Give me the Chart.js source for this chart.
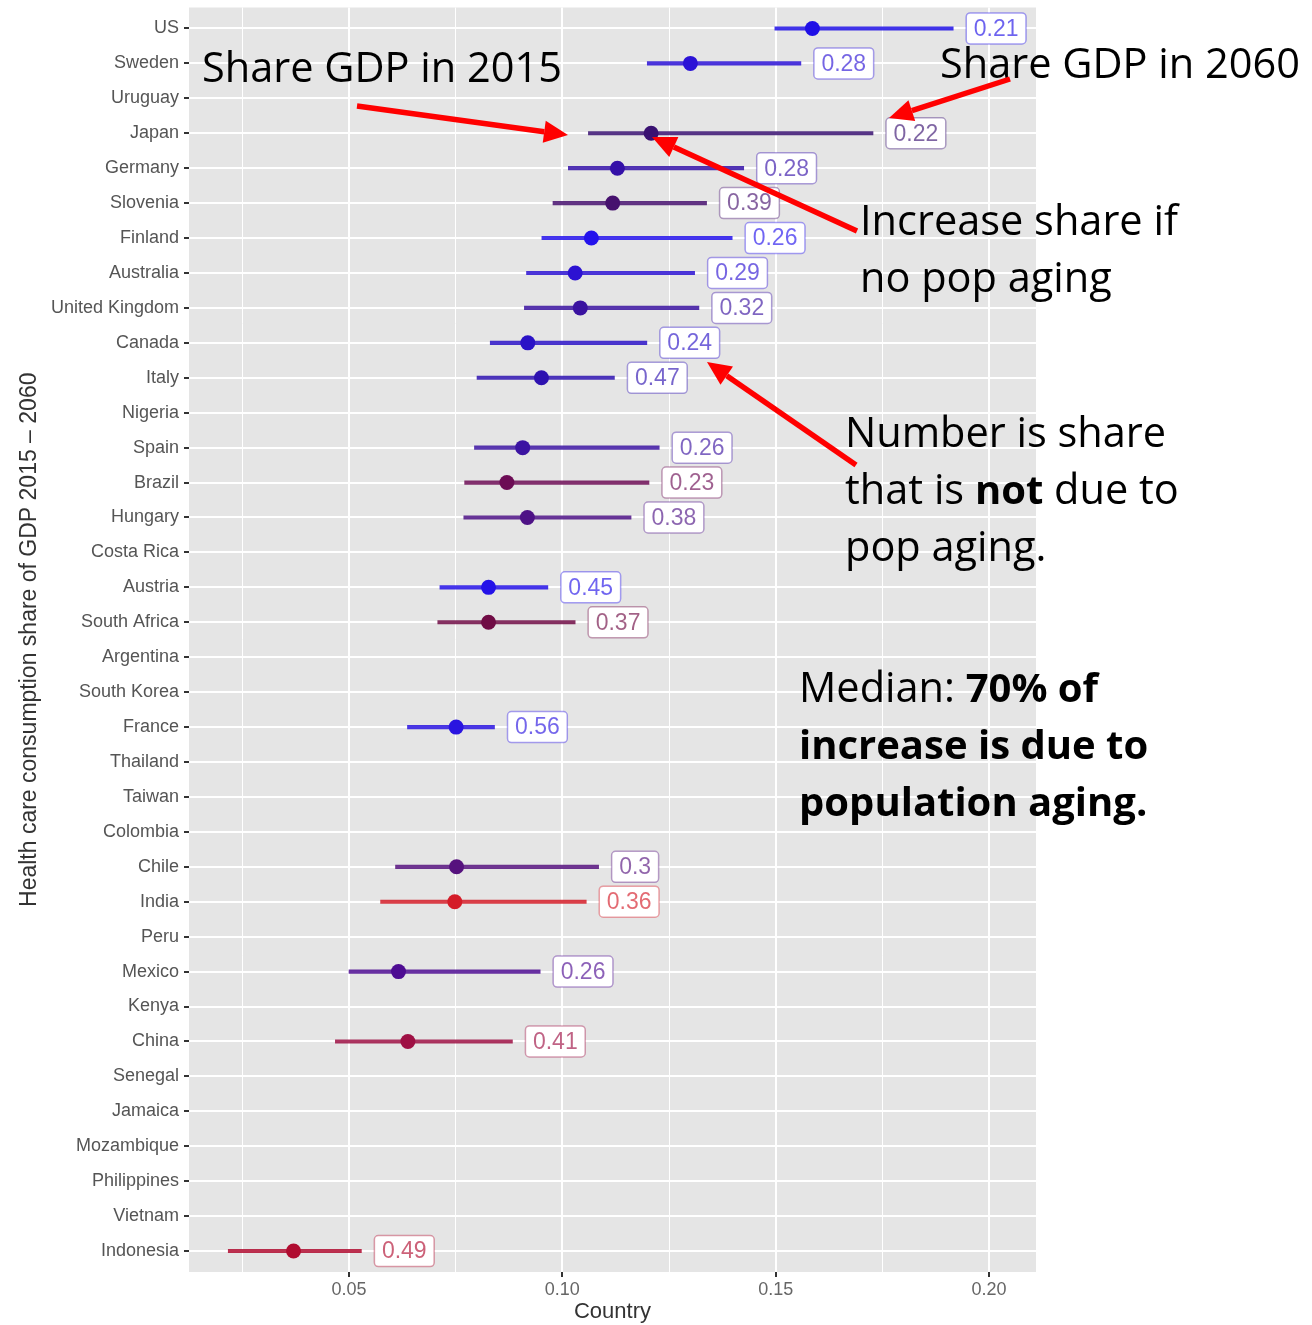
<!DOCTYPE html>
<html>
<head>
<meta charset="utf-8">
<script src="https://cdn.jsdelivr.net/npm/chart.js@4/dist/chart.umd.min.js"></script>
<style>
  html, body { margin: 0; background: #fff; }
  canvas { display: block; }
</style>
</head>
<body>
<canvas id="chart" width="1312" height="1325"></canvas>
<script>
// countries top to bottom; null = no estimate available
const COUNTRIES = ["US", "Sweden", "Uruguay", "Japan", "Germany", "Slovenia", "Finland", "Australia",
  "United Kingdom", "Canada", "Italy", "Nigeria", "Spain", "Brazil", "Hungary", "Costa Rica", "Austria",
  "South Africa", "Argentina", "South Korea", "France", "Thailand", "Taiwan", "Colombia", "Chile", "India",
  "Peru", "Mexico", "Kenya", "China", "Senegal", "Jamaica", "Mozambique", "Philippines", "Vietnam", "Indonesia"];

const SHARE_2015 = [0.1498, 0.1199, null, 0.1061, 0.1014, 0.0978, 0.0952, 0.0916,
  0.0911, 0.0831, 0.0800, null, 0.0794, 0.0771, 0.0769, null, 0.0713,
  0.0708, null, null, 0.0637, null, null, null, 0.0609, 0.0574,
  null, 0.0500, null, 0.0468, null, null, null, null, null, 0.0217];

const SHARE_2060 = [0.1916, 0.1559, null, 0.1728, 0.1425, 0.1338, 0.1398, 0.1310,
  0.1320, 0.1198, 0.1122, null, 0.1227, 0.1203, 0.1161, null, 0.0966,
  0.1030, null, null, 0.0841, null, null, null, 0.1085, 0.1056,
  null, 0.0948, null, 0.0883, null, null, null, null, null, 0.0529];

// 2060 share if the population did not age
const SHARE_NO_AGING = [0.1586, 0.1300, null, 0.1208, 0.1129, 0.1118, 0.1068, 0.1030,
  0.1042, 0.0919, 0.0951, null, 0.0907, 0.0870, 0.0918, null, 0.0827,
  0.0827, null, null, 0.0751, null, null, null, 0.0752, 0.0748,
  null, 0.0616, null, 0.0638, null, null, null, null, null, 0.0370];

// share of the increase not due to population aging
const NOT_AGING = [0.21, 0.28, null, 0.22, 0.28, 0.39, 0.26, 0.29,
  0.32, 0.24, 0.47, null, 0.26, 0.23, 0.38, null, 0.45,
  0.37, null, null, 0.56, null, null, null, 0.3, 0.36,
  null, 0.26, null, 0.41, null, null, null, null, null, 0.49];

const X_GRID = [0.025, 0.05, 0.075, 0.10, 0.125, 0.15, 0.175, 0.20];

const COLORS = ["#1f0fe6", "#2b12d6", null, "#3a1272", "#3410a8", "#46116e", "#2412ec", "#2c12d2",
  "#3a12a0", "#2a12c6", "#2e12b0", null, "#3c14a2", "#6c0c55", "#4e1286", null, "#2412e8",
  "#700c45", null, null, "#2a14e0", null, null, null, "#56127e", "#d41c28",
  null, "#4e0c92", null, "#9e1044", null, null, null, null, null, "#b00c30"];

const NOTES = [
  { x: 202, y: 82, runs: [["Share GDP in 2015", false]] },
  { x: 940, y: 78, runs: [["Share GDP in 2060", false]] },
  { x: 860, y: 235, runs: [["Increase share if", false]] },
  { x: 860, y: 292, runs: [["no pop aging", false]] },
  { x: 845, y: 447, runs: [["Number is share", false]] },
  { x: 845, y: 504, runs: [["that is ", false], ["not", true], [" due to", false]] },
  { x: 845, y: 561, runs: [["pop aging.", false]] },
  { x: 799, y: 702, runs: [["Median: ", false], ["70% of", true]] },
  { x: 799, y: 759, runs: [["increase is due to", true]] },
  { x: 799, y: 816, runs: [["population aging.", true]] }
];

const ARROWS = [
  { from: [357, 106], to: [568, 135] },
  { from: [1010, 79], to: [889, 118] },
  { from: [857, 231], to: [652, 137] },
  { from: [856, 465], to: [707, 362] }
];

const rows = COUNTRIES.map((_, i) => i).filter(i => SHARE_2015[i] !== null);
const TICK_FONT = '"Liberation Sans", Arial, sans-serif';

function withAlpha(hex, a) {
  const n = parseInt(hex.slice(1), 16);
  return `rgba(${(n >> 16) & 255}, ${(n >> 8) & 255}, ${n & 255}, ${a})`;
}

function isMajor(v) {
  return Math.abs(v * 20 - Math.round(v * 20)) < 1e-6;
}

function noEdgePadding(s) {
  s.paddingTop = 0;
  s.paddingBottom = 0;
  s.paddingLeft = 0;
  s.paddingRight = 0;
}

const panelBackground = {
  id: "panelBackground",
  beforeDraw(chart) {
    const { ctx, chartArea: a } = chart;
    ctx.save();
    ctx.fillStyle = "#e5e5e5";
    ctx.fillRect(a.left, a.top, a.right - a.left, a.bottom - a.top);
    ctx.restore();
  }
};

// boxed numbers to the right of each segment
const valueLabels = {
  id: "valueLabels",
  afterDatasetsDraw(chart) {
    const { ctx, scales: { x, y } } = chart;
    ctx.save();
    ctx.font = `23px ${TICK_FONT}`;
    ctx.textBaseline = "middle";
    rows.forEach(i => {
      const text = String(NOT_AGING[i]);
      const left = x.getPixelForValue(SHARE_2060[i]) + 13;
      const mid = y.getPixelForValue(i);
      const w = ctx.measureText(text).width + 15;
      const h = 31;
      ctx.beginPath();
      ctx.roundRect(left, mid - h / 2, w, h, 4);
      ctx.fillStyle = "#fff";
      ctx.fill();
      ctx.lineWidth = 1.5;
      ctx.strokeStyle = withAlpha(COLORS[i], 0.4);
      ctx.stroke();
      ctx.fillStyle = withAlpha(COLORS[i], 0.65);
      ctx.fillText(text, left + 7.5, mid + 1);
    });
    ctx.restore();
  }
};

function drawArrow(ctx, [x0, y0], [x1, y1]) {
  const ang = Math.atan2(y1 - y0, x1 - x0);
  const len = 24, half = 11;
  const bx = x1 - len * Math.cos(ang), by = y1 - len * Math.sin(ang);
  ctx.beginPath();
  ctx.moveTo(x0, y0);
  ctx.lineTo(bx, by);
  ctx.stroke();
  ctx.beginPath();
  ctx.moveTo(x1, y1);
  ctx.lineTo(bx + half * Math.sin(ang), by - half * Math.cos(ang));
  ctx.lineTo(bx - half * Math.sin(ang), by + half * Math.cos(ang));
  ctx.closePath();
  ctx.fill();
}

const annotations = {
  id: "annotations",
  afterDraw(chart) {
    const { ctx } = chart;
    ctx.save();
    ctx.fillStyle = "#000";
    ctx.textBaseline = "alphabetic";
    NOTES.forEach(note => {
      let cx = note.x;
      note.runs.forEach(([text, bold]) => {
        ctx.font = bold ? 'bold 40px "Open Sans", Lato, sans-serif' : '41.5px "Open Sans", Lato, sans-serif';
        ctx.fillText(text, cx, note.y);
        cx += ctx.measureText(text).width;
      });
    });
    ctx.strokeStyle = "#ff0000";
    ctx.fillStyle = "#ff0000";
    ctx.lineWidth = 5.5;
    ARROWS.forEach(a => drawArrow(ctx, a.from, a.to));
    ctx.restore();
  }
};

new Chart(document.getElementById("chart"), {
  type: "scatter",
  data: {
    datasets: [
      {
        label: "No population aging",
        data: rows.map(i => ({ x: SHARE_NO_AGING[i], y: i })),
        pointRadius: 7.5,
        pointBorderWidth: 0,
        pointBackgroundColor: rows.map(i => COLORS[i]),
        order: 1
      },
      {
        type: "bar",
        indexAxis: "y",
        label: "2015 to 2060",
        data: rows.map(i => ({ x: [SHARE_2015[i], SHARE_2060[i]], y: i })),
        backgroundColor: rows.map(i => withAlpha(COLORS[i], 0.85)),
        barThickness: 3.5,
        borderWidth: 0,
        order: 2
      }
    ]
  },
  options: {
    responsive: false,
    animation: false,
    devicePixelRatio: 1,
    layout: { padding: { top: 6, right: 276, bottom: 0, left: 0 } },
    plugins: { legend: { display: false }, tooltip: { enabled: false } },
    scales: {
      x: {
        type: "linear",
        min: 0.0125,
        max: 0.211,
        offset: false,
        beginAtZero: false,
        afterBuildTicks: s => { s.ticks = X_GRID.map(v => ({ value: v })); },
        afterFit: s => { s.height = 53; noEdgePadding(s); },
        border: { display: false },
        grid: {
          offset: false,
          color: "#fff",
          lineWidth: c => (c.tick && isMajor(c.tick.value) ? 2 : 1),
          tickLength: 5,
          tickWidth: 2,
          tickColor: c => (c.tick && isMajor(c.tick.value) ? "#333" : "rgba(0,0,0,0)")
        },
        ticks: {
          autoSkip: false,
          maxRotation: 0,
          padding: 2,
          color: "#666",
          font: { family: TICK_FONT, size: 18 },
          callback: v => (isMajor(v) ? v.toFixed(2) : "")
        },
        title: {
          display: true,
          text: "Country",
          color: "#333",
          font: { family: TICK_FONT, size: 22 },
          padding: { top: 0, bottom: 0 }
        }
      },
      y: {
        type: "linear",
        reverse: true,
        min: -0.6,
        max: 35.6,
        offset: false,
        afterBuildTicks: s => { s.ticks = COUNTRIES.map((_, i) => ({ value: i })); },
        afterFit: s => { s.width = 189; noEdgePadding(s); },
        border: { display: false },
        grid: { offset: false, color: "#fff", lineWidth: 2, tickLength: 5, tickWidth: 2, tickColor: "#333" },
        ticks: {
          autoSkip: false,
          padding: 5,
          color: "#555",
          font: { family: TICK_FONT, size: 18 },
          callback: v => COUNTRIES[v]
        },
        title: {
          display: true,
          text: "Health care consumption share of GDP 2015 \u2013 2060",
          color: "#333",
          font: { family: TICK_FONT, size: 23 },
          padding: { top: 16, bottom: 0 }
        }
      }
    }
  },
  plugins: [panelBackground, valueLabels, annotations]
});
</script>
</body>
</html>
